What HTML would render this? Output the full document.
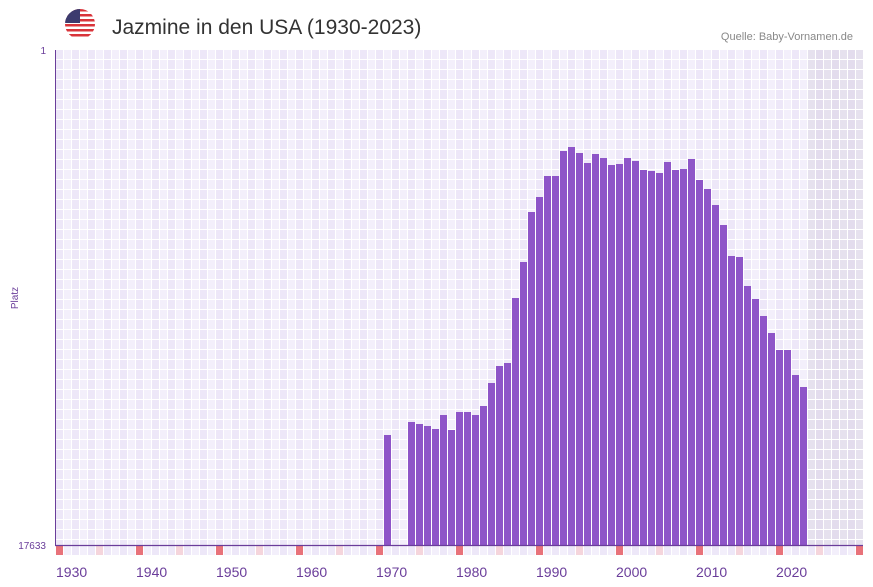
<!DOCTYPE html>
<html><head><meta charset="utf-8"><style>
body{margin:0;background:#fff;font-family:"Liberation Sans",sans-serif}
svg{display:block}
</style></head><body>
<svg id="s" width="873" height="587" xmlns="http://www.w3.org/2000/svg">
<defs><clipPath id="fc"><circle cx="80" cy="24" r="15"/></clipPath></defs>
<g clip-path="url(#fc)">
<rect x="65" y="9" width="30" height="30" fill="#fff"/>
<g fill="#d9343a"><rect x="65" y="9" width="30" height="2.5"/><rect x="65" y="14" width="30" height="2.5"/><rect x="65" y="19" width="30" height="2.5"/><rect x="65" y="24" width="30" height="2.5"/><rect x="65" y="29" width="30" height="2.5"/><rect x="65" y="34" width="30" height="2.5"/></g>
<rect x="65" y="9" width="15" height="14" fill="#3c3b6e"/>
</g>
<text x="112" y="34" font-size="21" fill="#333">Jazmine in den USA (1930-2023)</text>
<text x="853" y="40" font-size="11" fill="#888" text-anchor="end">Quelle: Baby-Vornamen.de</text>
<g id="grid"></g>
<g id="bars" fill="#8e55c8"></g>
<line x1="55.5" y1="50" x2="55.5" y2="546" stroke="#6a3d9a" stroke-width="1"/>
<line x1="55" y1="545.5" x2="863" y2="545.5" stroke="#6a3d9a" stroke-width="1.2"/>
<text x="46" y="54" font-size="10" fill="#6a3d9a" text-anchor="end">1</text>
<text x="46" y="549" font-size="10" fill="#6a3d9a" text-anchor="end">17633</text>
<text x="18" y="298" font-size="10" fill="#6a3d9a" text-anchor="middle" transform="rotate(-90 18 298)">Platz</text>
<g id="lab" font-size="14" fill="#6a3d9a"></g>
</svg>
<script>
var NS="http://www.w3.org/2000/svg";
function r(p,x,y,w,h,f){var e=document.createElementNS(NS,"rect");e.setAttribute("x",x);e.setAttribute("y",y);e.setAttribute("width",w);e.setAttribute("height",h);if(f)e.setAttribute("fill",f);p.appendChild(e);}
var g=document.getElementById("grid");
for(var i=0;i<101;i++){var x=56+8*i;var shade=i>=94;
 for(var j=0;j<50;j++){var y=50+10*j;var h=Math.min(9,545-y);if(h<=0)continue;
  var c=shade?(i%2?"#e3dced":"#e6e1ee"):(i%2?"#f3effb":"#ede7f8");r(g,x,y,7,h,c);}
 var m=i%10==0?"#e8727a":(i%10==5?"#f5d5dc":(i%2?"#f3effb":"#ede7f8"));r(g,x,546,7,9,m);}
var tops={41:435,44:422,45:424,46:426,47:429,48:415,49:430,50:412,51:412,52:415,53:406,54:383,55:366,56:363,57:298,58:262,59:212,60:197,61:176,62:176,63:151,64:147,65:153,66:163,67:154,68:158,69:165,70:164,71:158,72:161,73:170,74:171,75:173,76:162,77:170,78:169,79:159,80:180,81:189,82:205,83:225,84:256,85:257,86:286,87:299,88:316,89:333,90:350,91:350,92:375,93:387};
var b=document.getElementById("bars");
for(var k in tops){r(b,56+8*k,tops[k],7,545-tops[k]);}
var L=document.getElementById("lab");
for(var y=1930;y<=2020;y+=10){var t=document.createElementNS(NS,"text");t.setAttribute("x",56+8*(y-1930));t.setAttribute("y",577);t.textContent=y;L.appendChild(t);}
</script>
</body></html>
